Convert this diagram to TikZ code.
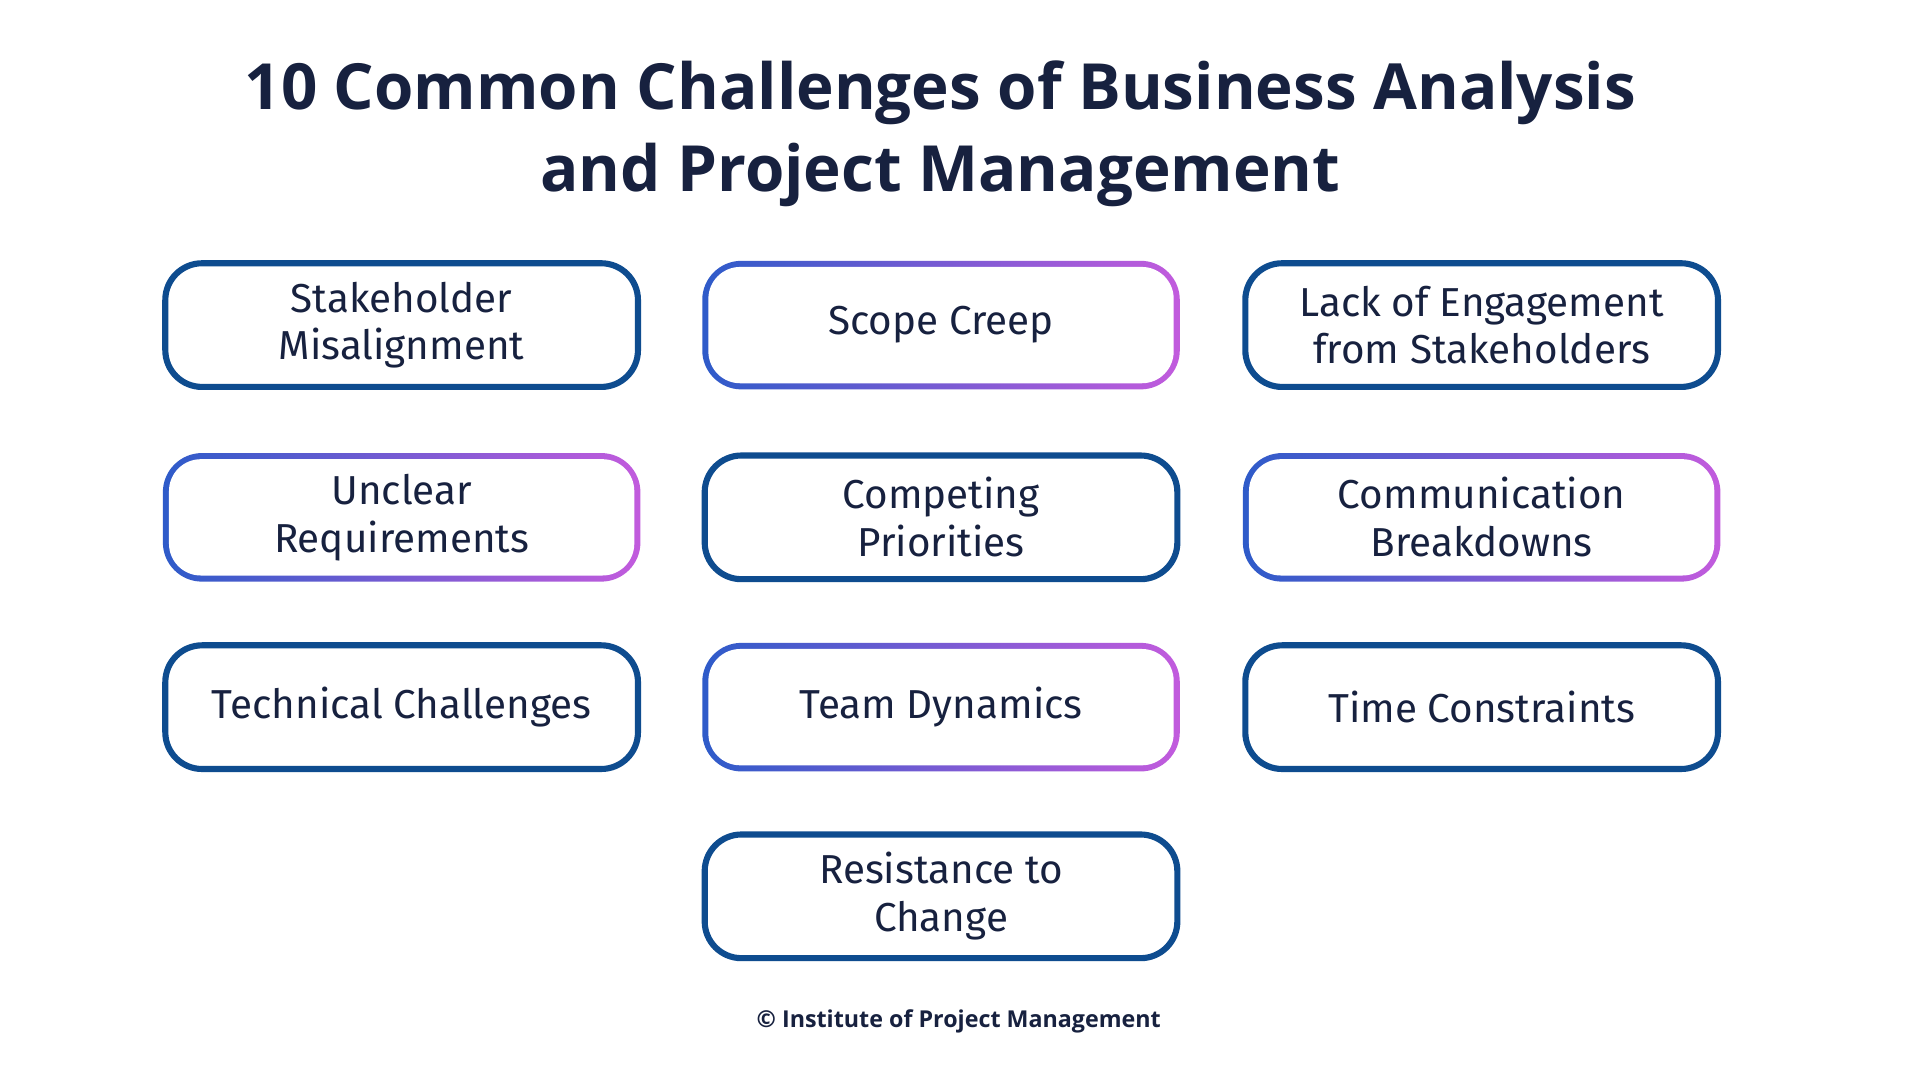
\documentclass[tikz,border=0pt]{standalone}
\usepackage{fontspec}
\setmainfont{Fira Sans}
\newfontfamily\titlefont{Open Sans}
\definecolor{ink}{HTML}{17213F}
\definecolor{navy}{HTML}{0E4C8F}
\definecolor{gA}{HTML}{2E5BC9}
\definecolor{gB}{HTML}{C25BDD}
\begin{document}
\begin{tikzpicture}[x=1pt,y=-1pt,
  box/.style={draw=navy,line width=5pt,rounded corners=30pt,fill=white,minimum width=386pt,minimum height=101pt,align=center,text=ink,font=\fontsize{33}{39}\selectfont},
  gbox/.style={box,draw=none,minimum width=380pt,minimum height=95pt,rounded corners=26pt}]
\useasboundingbox (0,0) rectangle (1568,882);
\fill[white] (0,0) rectangle (1568,882);
\node[font=\titlefont\bfseries\fontsize{52}{67}\selectfont,text=ink,align=center] (title) at (768,109) {10 Common Challenges of Business Analysis\\and Project Management};
% row 1
\node[box] (b1) at (328,265.5) {Stakeholder\\Misalignment};
\shade[left color=gA,right color=gB,rounded corners=32pt] (573.5,213) rectangle (963.5,318);
\node[gbox] (b2) at (768.5,265.5) {Scope Creep};
\node[box] (b3) at (1210,265.5) {Lack of Engagement\\from Stakeholders};
% row 2
\shade[left color=gA,right color=gB,rounded corners=32pt] (133,370) rectangle (523,475);
\node[gbox] (b4) at (328,422.5) {Unclear\\Requirements};
\node[box] (b5) at (768.5,422.5) {Competing\\Priorities};
\shade[left color=gA,right color=gB,rounded corners=32pt] (1015,370) rectangle (1405,475);
\node[gbox] (b6) at (1210,422.5) {Communication\\Breakdowns};
% row 3
\node[box] (b7) at (328,577.5) {Technical Challenges};
\shade[left color=gA,right color=gB,rounded corners=32pt] (573.5,525) rectangle (963.5,630);
\node[gbox] (b8) at (768.5,577.5) {Team Dynamics};
\node[box] (b9) at (1210,577.5) {Time Constraints};
% row 4
\node[box] (b10) at (768.5,732) {Resistance to\\Change};
\node[font=\titlefont\fontsize{19}{24}\selectfont\bfseries,text=ink] (foot) at (783,834) {© Institute of Project Management};
\end{tikzpicture}
\end{document}
